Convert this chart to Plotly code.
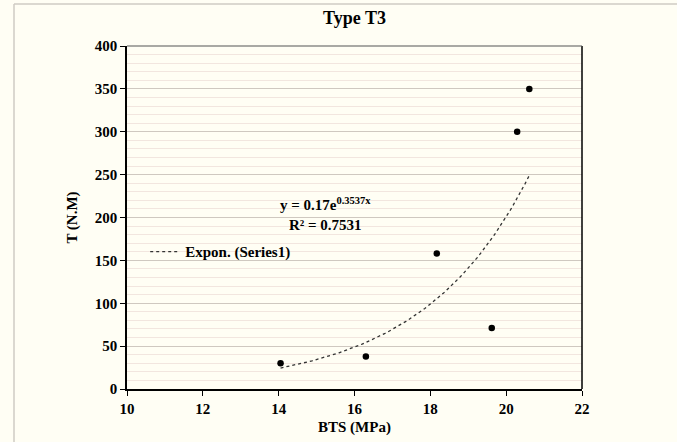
import numpy as np
import plotly.graph_objects as go

# Measured points: Brazilian tensile strength vs torque
bts_mpa = [14.05, 16.3, 18.17, 19.62, 20.29, 20.61]
torque_nm = [30, 38, 158, 71, 300, 350]

# Exponential trendline coefficients (y = a * e^(b x)) and fit quality
trend_a = 0.17
trend_b = 0.3537
trend_r2 = 0.7531

x_ticks = [10, 12, 14, 16, 18, 20, 22]
y_ticks = [0, 50, 100, 150, 200, 250, 300, 350, 400]

SERIF = "Liberation Serif, Times New Roman, serif"
BG = "#FFFEF4"

fig = go.Figure()

trend_x = np.linspace(min(bts_mpa), max(bts_mpa), 120)
trend_y = trend_a * np.exp(trend_b * trend_x)
fig.add_trace(go.Scatter(
    x=trend_x, y=trend_y, mode="lines",
    line=dict(color="#333333", width=1.3, dash="dot"),
    name="Expon. (Series1)", showlegend=True, hoverinfo="skip",
))

fig.add_trace(go.Scatter(
    x=bts_mpa, y=torque_nm, mode="markers",
    marker=dict(color="black", size=6.5),
    name="Series1", showlegend=False,
))

axis_font = dict(family=SERIF, size=15, color="black", weight="bold")

fig.update_layout(
    width=677, height=442,
    margin=dict(l=127, r=95, t=46, b=53),
    paper_bgcolor=BG, plot_bgcolor=BG,
    title=dict(text="Type T3", x=0.5, xref="paper", xanchor="center",
               y=1 - 18 / 442, yanchor="middle",
               font=dict(family=SERIF, size=18, color="black", weight="bold")),
    xaxis=dict(
        range=[10, 22], tickvals=x_ticks, ticktext=[str(v) for v in x_ticks],
        showgrid=False, zeroline=False,
        showline=True, linecolor="black", linewidth=1.5,
        ticks="outside", ticklen=5, tickcolor="black", tickwidth=1.2,
        tickfont=axis_font,
    ),
    yaxis=dict(
        range=[0, 400], tickvals=y_ticks, ticktext=[str(v) for v in y_ticks],
        showgrid=True, gridcolor="#CFC8C0", gridwidth=1,
        minor=dict(dtick=10, showgrid=True, gridcolor="#F2E6DF", gridwidth=1),
        zeroline=False,
        showline=True, linecolor="black", linewidth=1.5,
        ticks="outside", ticklen=5, tickcolor="black", tickwidth=1.2,
        tickfont=axis_font,
        title=dict(text="T (N.M)", font=axis_font, standoff=14),
    ),
    legend=dict(
        x=0.04, y=0.40, xanchor="left", yanchor="middle",
        bgcolor="rgba(0,0,0,0)", font=dict(family=SERIF, size=15, color="black", weight="bold"),
        itemwidth=30,
    ),
    showlegend=True,
)

# X axis title under the tick labels
fig.add_annotation(
    x=0.5, y=(389 - 427) / 343, xref="paper", yref="paper",
    text="BTS (MPa)", showarrow=False, xanchor="center", yanchor="middle",
    font=axis_font,
)

# Right and top frame of the plotting area
fig.add_shape(type="line", xref="paper", yref="paper", x0=1, x1=1, y0=0, y1=1,
              line=dict(color="black", width=1.5))
fig.add_shape(type="line", xref="paper", yref="paper", x0=0, x1=1, y0=1, y1=1,
              line=dict(color="#555555", width=1.2))

# Outer chart border (left and top edges)
border_left = (14 - 127) / 455
border_top = (389 - 4) / 343
fig.add_shape(type="line", xref="paper", yref="paper",
              x0=border_left, x1=border_left, y0=-0.5, y1=border_top,
              line=dict(color="#CFCBC4", width=1.5), layer="below")
fig.add_shape(type="line", xref="paper", yref="paper",
              x0=border_left, x1=1.5, y0=border_top, y1=border_top,
              line=dict(color="#CFCBC4", width=1.5), layer="below")

# Trendline equation and R² label
fig.add_annotation(
    x=(278 - 127) / 455, y=(389 - 214) / 343, xref="paper", yref="paper",
    text=f"y = {trend_a}e<sup>{trend_b}x</sup><br>R² = {trend_r2}",
    showarrow=False, align="center",
    font=dict(family=SERIF, size=15, color="black", weight="bold"),
)

fig.write_html("out.html")
